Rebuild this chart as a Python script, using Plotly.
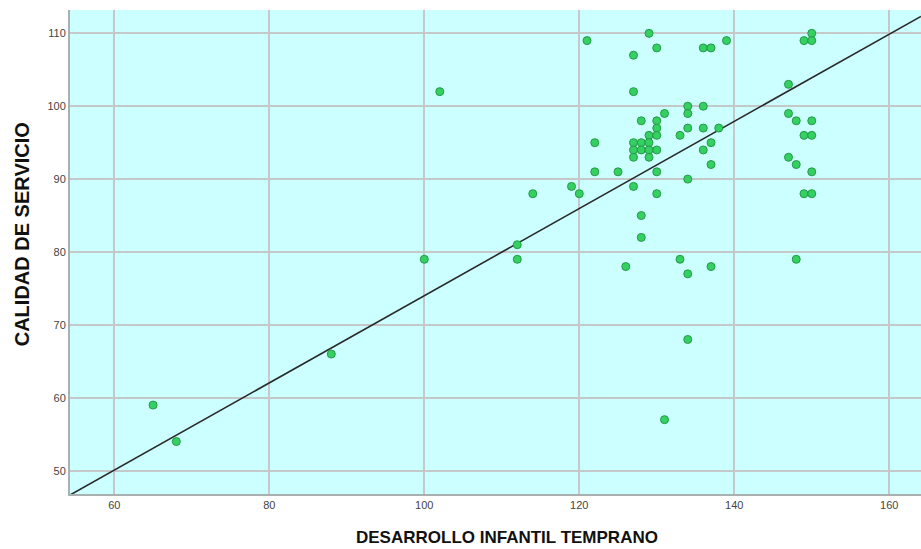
import numpy as np
import plotly.graph_objects as go

# DESARROLLO INFANTIL TEMPRANO (x) vs CALIDAD DE SERVICIO (y)
desarrollo = [65, 68, 88, 100, 102, 112, 112, 114, 119, 120, 121, 122, 122, 125, 126,
              127, 127, 127, 127, 127, 127, 128, 128, 128, 128, 128,
              129, 129, 129, 129, 129, 130, 130, 130, 130, 130, 130, 130,
              131, 131, 133, 133, 134, 134, 134, 134, 134, 134,
              136, 136, 136, 136, 137, 137, 137, 137, 138, 139,
              147, 147, 147, 148, 148, 148, 149, 149, 149,
              150, 150, 150, 150, 150, 150]
calidad = [59, 54, 66, 79, 102, 81, 79, 88, 89, 88, 109, 95, 91, 91, 78,
           107, 102, 95, 94, 93, 89, 98, 95, 94, 85, 82,
           110, 96, 95, 94, 93, 108, 98, 97, 96, 94, 91, 88,
           99, 57, 96, 79, 100, 99, 97, 90, 77, 68,
           108, 100, 97, 94, 108, 95, 92, 78, 97, 109,
           103, 99, 93, 98, 92, 79, 109, 96, 88,
           110, 109, 98, 96, 91, 88]

# fit line as drawn in the reference
fit_intercept = 14.2
fit_slope = 0.598

x_ticks = [60, 80, 100, 120, 140, 160]
y_ticks = [50, 60, 70, 80, 90, 100, 110]
x_range = [54.28, 164.1]
y_range = [46.8, 113.2]

fit_x = np.array(x_range)
fit_y = fit_slope * fit_x + fit_intercept

fig = go.Figure()
fig.add_trace(go.Scatter(
    x=fit_x, y=fit_y, mode="lines",
    line=dict(color="#2a2a2a", width=1.6), showlegend=False))
fig.add_trace(go.Scatter(
    x=desarrollo, y=calidad, mode="markers",
    marker=dict(size=8, color="#35d062", line=dict(color="#239a47", width=1)),
    showlegend=False))

fig.update_layout(
    width=921, height=549,
    margin=dict(l=70, r=0, t=10, b=55),
    paper_bgcolor="white", plot_bgcolor="#ccffff",
    font=dict(family="Liberation Sans, Arial, sans-serif", size=11, color="#333333"),
    xaxis=dict(range=x_range, tickvals=x_ticks, showgrid=True, gridcolor="#c4c8c8",
               gridwidth=2, zeroline=False, showline=True, linecolor="#a8b0b0", linewidth=2,
               ticks="", ticklen=0, tickfont=dict(size=11, color="#444444")),
    yaxis=dict(range=y_range, tickvals=y_ticks, showgrid=True, gridcolor="#c4c8c8",
               gridwidth=2, zeroline=False, showline=True, linecolor="#a8b0b0", linewidth=2,
               ticks="", ticklen=0, tickfont=dict(size=11, color="#444444")),
    annotations=[
        dict(text="<b>DESARROLLO INFANTIL TEMPRANO</b>", xref="paper", yref="paper",
             x=(507 - 70) / 851, y=-(538 - 494) / 484.5, xanchor="center", yanchor="middle",
             showarrow=False,
             font=dict(family="Liberation Sans, Arial, sans-serif", size=17, color="#111111")),
        dict(text="<b>CALIDAD DE SERVICIO</b>", xref="paper", yref="paper",
             x=-(70 - 22) / 851, y=(494 - 234) / 484.5, xanchor="center", yanchor="middle",
             textangle=-90, showarrow=False,
             font=dict(family="Liberation Sans, Arial, sans-serif", size=20, color="#111111")),
    ],
)

fig.write_html("out.html", config={"displayModeBar": False},
               post_script="document.body.style.margin='0px';document.body.style.overflow='hidden';")
